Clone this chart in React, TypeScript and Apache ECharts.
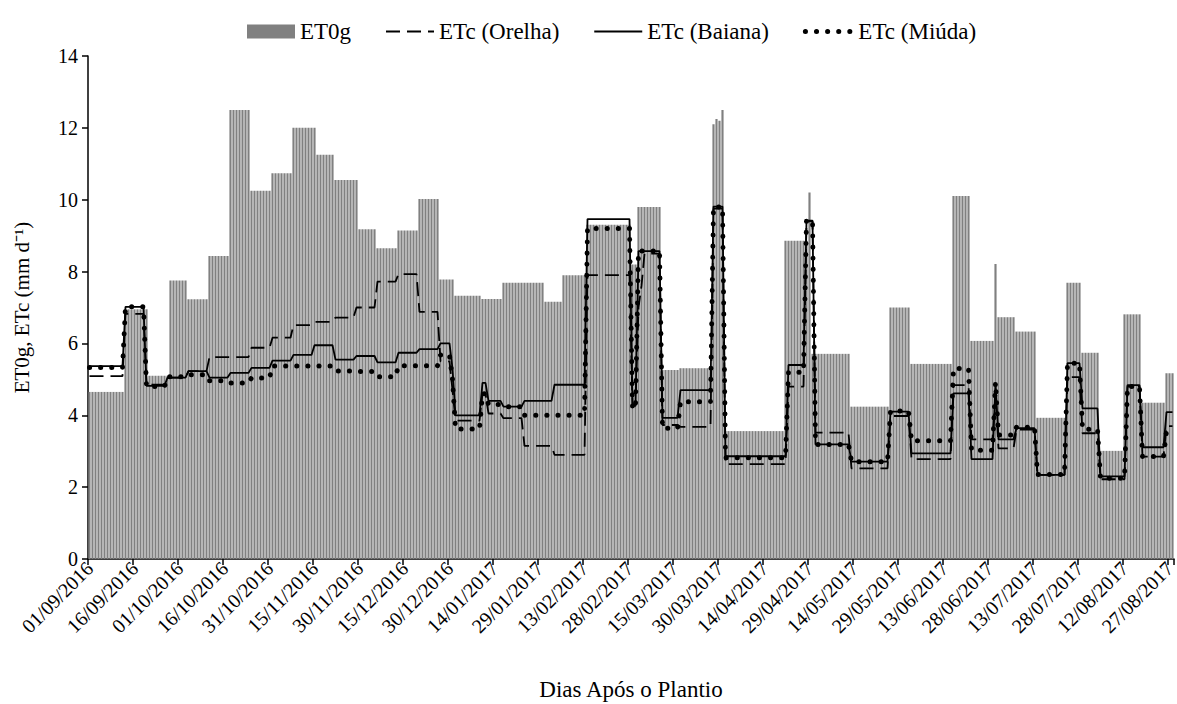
import { useEffect, useRef } from 'react';
import * as echarts from 'echarts';

// Daily axis: 01/09/2016 ... 28/08/2017
const START_YEAR = 2016;
const START_MONTH = 8; // September (0-based)
const START_DAY = 1;
const DAY_COUNT = 362;
const TICK_EVERY = 15;

// ET0g: weekly-ish blocks (run length in days, value in mm/d)
const et0gRunLengths = [12, 8, 7, 6, 7, 7, 7, 7, 7, 8, 6, 8, 6, 7, 7, 7, 5, 9, 7, 14, 6, 8, 15, 2, 8, 6, 11, 1, 1, 1, 1, 20, 8, 1, 13, 13, 7, 14, 6, 8, 1, 6, 7, 10, 5, 6, 8, 6, 8, 3];
const et0gRunValues = [4.65, 6.95, 5.1, 7.75, 7.23, 8.43, 12.5, 10.25, 10.74, 12.0, 11.25, 10.55, 9.18, 8.65, 9.14, 10.02, 7.78, 7.33, 7.24, 7.69, 7.16, 7.9, 9.3, 8.2, 9.8, 5.26, 5.31, 12.1, 12.25, 12.2, 12.5, 3.56, 8.86, 10.2, 5.71, 4.24, 7.0, 5.43, 10.1, 6.07, 8.21, 6.73, 6.33, 3.93, 7.69, 5.74, 3.01, 6.81, 4.35, 5.17];

// ETc (Orelha): day where a new value starts, and that value
const orelhaStartDays = [0, 12, 19, 26, 33, 40, 54, 61, 68, 75, 82, 89, 96, 103, 110, 117, 121, 122, 131, 133, 138, 145, 155, 166, 181, 183, 184, 185, 191, 197, 208, 212, 233, 239, 242, 254, 267, 274, 288, 294, 302, 303, 309, 316, 326, 331, 337, 346, 351, 359];
const orelhaValues = [5.09, 6.82, 4.85, 5.05, 5.23, 5.62, 5.88, 6.16, 6.51, 6.6, 6.72, 7.0, 7.72, 7.93, 6.88, 5.5, 4.7, 3.85, 4.6, 4.05, 3.92, 3.15, 2.9, 7.9, 4.3, 7.0, 7.6, 8.5, 3.73, 3.68, 9.75, 2.64, 4.8, 9.4, 3.52, 2.52, 3.98, 2.78, 4.84, 3.33, 4.6, 3.08, 3.6, 2.34, 5.06, 3.5, 2.22, 4.8, 2.85, 3.7];

// ETc (Baiana)
const baianaStartDays = [0, 12, 19, 26, 33, 40, 47, 54, 61, 68, 75, 82, 89, 96, 103, 110, 117, 121, 122, 131, 133, 138, 145, 155, 166, 181, 183, 191, 197, 208, 212, 233, 239, 242, 254, 267, 274, 288, 294, 302, 303, 309, 316, 326, 331, 337, 346, 351, 359];
const baianaValues = [5.37, 7.02, 4.82, 5.05, 5.23, 5.05, 5.18, 5.32, 5.52, 5.68, 5.95, 5.55, 5.65, 5.47, 5.74, 5.84, 6.0, 5.3, 4.0, 4.9, 4.4, 4.24, 4.4, 4.85, 9.46, 4.26, 8.57, 3.93, 4.7, 9.81, 2.86, 5.4, 9.42, 3.19, 2.71, 4.1, 2.94, 4.61, 2.78, 4.91, 3.33, 3.64, 2.34, 5.45, 4.19, 2.3, 4.84, 3.11, 4.09];

// ETc (Miúda)
const miudaStartDays = [0, 12, 19, 26, 33, 40, 47, 54, 61, 82, 89, 96, 103, 117, 121, 122, 131, 133, 138, 145, 166, 181, 183, 191, 197, 208, 212, 233, 239, 242, 254, 267, 274, 288, 294, 302, 303, 309, 316, 326, 331, 337, 346, 351, 359];
const miudaValues = [5.33, 7.02, 4.8, 5.07, 5.13, 4.96, 4.9, 5.04, 5.37, 5.23, 5.22, 5.07, 5.38, 5.68, 5.0, 3.62, 4.6, 4.3, 4.24, 4.0, 9.2, 4.19, 8.57, 3.64, 4.38, 9.8, 2.82, 5.2, 9.42, 3.19, 2.71, 4.12, 3.29, 5.3, 3.03, 4.91, 3.45, 3.67, 2.35, 5.45, 3.61, 2.25, 4.8, 2.85, 3.57];

const FONT = 'serif';

const DASHED = { color: '#000', width: 1.8, type: [14, 7] as number[] };
const SOLID = { color: '#000', width: 1.8, type: 'solid' };
const DOTTED = { color: '#000', width: 5, type: [0.1, 11] as number[], cap: 'round' };
const HIDDEN_SYMBOL = { color: 'rgba(0,0,0,0)', borderWidth: 0, opacity: 0 };

function expandRuns(lengths: number[], values: number[]): number[] {
  const out: number[] = [];
  lengths.forEach((len, i) => {
    for (let k = 0; k < len; k++) out.push(values[i]);
  });
  return out;
}

function expandSteps(starts: number[], values: number[], n: number): number[] {
  const out: number[] = [];
  let idx = 0;
  for (let d = 0; d < n; d++) {
    while (idx + 1 < starts.length && starts[idx + 1] <= d) idx++;
    out.push(values[idx]);
  }
  return out;
}

function makeDates(): string[] {
  const out: string[] = [];
  for (let i = 0; i < DAY_COUNT; i++) {
    const d = new Date(Date.UTC(START_YEAR, START_MONTH, START_DAY + i));
    const dd = String(d.getUTCDate()).padStart(2, '0');
    const mm = String(d.getUTCMonth() + 1).padStart(2, '0');
    out.push(`${dd}/${mm}/${d.getUTCFullYear()}`);
  }
  return out;
}

export default function App() {
  const ref = useRef<HTMLDivElement>(null);

  useEffect(() => {
    document.body.style.margin = '0';
    if (!ref.current) return;
    const chart = echarts.init(ref.current, undefined, { renderer: 'svg' });
    const dates = makeDates();
    const et0g = expandRuns(et0gRunLengths, et0gRunValues);
    const orelha = expandSteps(orelhaStartDays, orelhaValues, DAY_COUNT);
    const baiana = expandSteps(baianaStartDays, baianaValues, DAY_COUNT);
    const miuda = expandSteps(miudaStartDays, miudaValues, DAY_COUNT);

    chart.setOption({
      animation: false,
      backgroundColor: '#ffffff',
      textStyle: { fontFamily: FONT, color: '#000' },
      legend: {
        top: 15,
        left: 242,
        itemWidth: 48,
        itemHeight: 14,
        itemGap: 34,
        textStyle: { fontFamily: FONT, fontSize: 23, color: '#000' },
        data: [
          { name: 'ET0g', icon: 'rect', itemStyle: { color: '#808080' } },
          { name: 'ETc (Orelha)', itemStyle: HIDDEN_SYMBOL, lineStyle: DASHED },
          { name: 'ETc (Baiana)', itemStyle: HIDDEN_SYMBOL, lineStyle: SOLID },
          { name: 'ETc (Miúda)', itemStyle: HIDDEN_SYMBOL, lineStyle: DOTTED },
        ],
      },
      grid: {
        left: 88,
        right: 3,
        top: 56,
        bottom: 145,
        containLabel: false,
        outerBoundsMode: 'none',
      },
      xAxis: {
        type: 'category',
        data: dates,
        boundaryGap: true,
        name: 'Dias Após o Plantio',
        nameLocation: 'middle',
        nameGap: 119,
        nameTextStyle: { fontFamily: FONT, fontSize: 23, color: '#000' },
        axisLine: { show: true, lineStyle: { color: '#000', width: 1.5 } },
        axisTick: { show: true, interval: TICK_EVERY - 1, length: 6, lineStyle: { color: '#000', width: 1.5 } },
        axisLabel: {
          interval: TICK_EVERY - 1,
          rotate: 45,
          margin: 6,
          fontFamily: FONT,
          fontSize: 20,
          color: '#000',
        },
        splitLine: { show: false },
      },
      yAxis: {
        type: 'value',
        min: 0,
        max: 14,
        interval: 2,
        name: 'ET0g, ETc (mm d⁻¹)',
        nameLocation: 'middle',
        nameGap: 56,
        nameRotate: 90,
        nameTextStyle: { fontFamily: FONT, fontSize: 21, color: '#000' },
        axisLine: { show: true, lineStyle: { color: '#000', width: 1.5 } },
        axisTick: { show: true, length: 6, lineStyle: { color: '#000', width: 1.5 } },
        axisLabel: { margin: 10, fontFamily: FONT, fontSize: 20, color: '#000' },
        splitLine: { show: false },
      },
      series: [
        {
          name: 'ET0g',
          type: 'bar',
          data: et0g,
          barCategoryGap: '28%',
          itemStyle: { color: '#808080' },
          z: 1,
        },
        {
          name: 'ETc (Orelha)',
          type: 'line',
          data: orelha,
          showSymbol: false,
          symbol: 'none',
          lineStyle: DASHED,
          itemStyle: { color: '#000' },
          z: 3,
        },
        {
          name: 'ETc (Baiana)',
          type: 'line',
          data: baiana,
          showSymbol: false,
          symbol: 'none',
          lineStyle: SOLID,
          itemStyle: { color: '#000' },
          z: 3,
        },
        {
          name: 'ETc (Miúda)',
          type: 'line',
          data: miuda,
          showSymbol: false,
          symbol: 'none',
          lineStyle: DOTTED,
          itemStyle: { color: '#000' },
          z: 4,
        },
      ],
    });

    return () => chart.dispose();
  }, []);

  return <div ref={ref} style={{ width: 1177, height: 704 }} />;
}
